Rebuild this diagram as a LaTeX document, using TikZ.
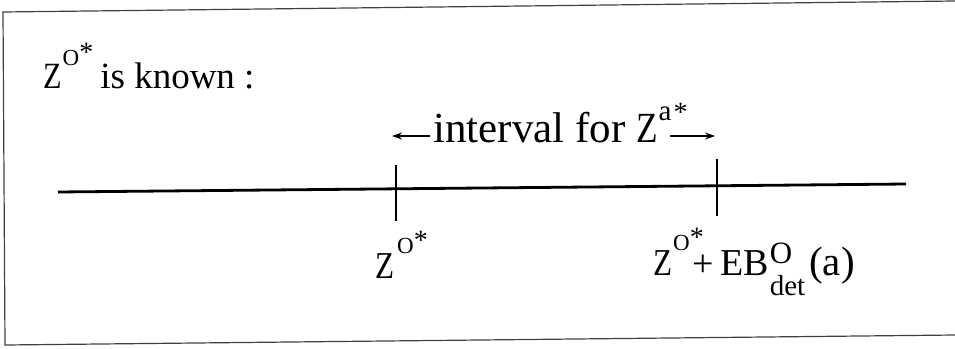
\documentclass[tikz,border=0pt]{standalone}
\usepackage{fontspec}
\setmainfont{Liberation Serif}
\usetikzlibrary{arrows.meta}
% narrow capital Z as in the reference
\newcommand\NZ{\scalebox{0.82}[1]{Z}}
% superscript #1 with a star; #2 = raise of #1, #3 = raise of star
\newcommand\zsup[3]{\raisebox{#2}{\fontsize{23}{23}\selectfont #1}\raisebox{#3}{\fontsize{28}{28}\selectfont *}}
\tikzset{
  lbl/.style={anchor=base west, inner sep=0pt, font=\fontsize{38}{38}\selectfont},
  frameline/.style={line width=1.2pt, draw=black!75},
  axis/.style={line width=2.8pt},
  tick/.style={line width=2pt},
  arr/.style={line width=1.8pt, -{Stealth[length=10pt,width=7pt]}}
}
\begin{document}
\begin{tikzpicture}[x=1pt,y=-1pt]
\useasboundingbox (0,0) rectangle (955,348);
% frame
\coordinate (fTL) at (3,12);
\coordinate (fTR) at (955,1);
\coordinate (fBL) at (5,345);
\coordinate (fBR) at (955,335);
\draw[frameline] (fTR) -- (fTL) -- (fBL) -- (fBR);
% axis
\coordinate (aL) at (58,192);
\coordinate (aR) at (906,184);
\draw[axis] (aL) -- (aR);
% ticks
\coordinate (t1a) at (396,165);
\coordinate (t1b) at (396,221);
\coordinate (t2a) at (717,159);
\coordinate (t2b) at (717,216);
\draw[tick] (t1a) -- (t1b);
\draw[tick] (t2a) -- (t2b);
% title
\node[lbl, font=\fontsize{37}{37}\selectfont] (title) at (43,88) {\NZ\kern1pt\zsup{O}{23pt}{27pt}\kern7pt is known :};
% interval
\node[lbl, font=\fontsize{43}{43}\selectfont] (intv) at (433,142) {interval for \NZ\kern1pt\raisebox{22pt}{\fontsize{29}{29}\selectfont a}\kern2pt\raisebox{21pt}{\fontsize{28}{28}\selectfont *}};
\coordinate (la) at (430,136);
\coordinate (lb) at (392,136);
\coordinate (ra) at (670,136);
\coordinate (rb) at (715,136);
\draw[arr] (la) -- (lb);
\draw[arr] (ra) -- (rb);
% labels
\node[lbl] (z1) at (375,278) {\NZ\kern3pt\zsup{O}{25pt}{29pt}};
\node[lbl] (z2) at (653,275) {\NZ\kern1pt\zsup{O}{25pt}{29pt}\kern-11pt\raisebox{-1pt}{\fontsize{38}{38}\selectfont +}\kern6pt EB\kern1pt\rlap{\raisebox{12pt}{\fontsize{31}{31}\selectfont O}}\raisebox{-20pt}{\fontsize{29}{29}\selectfont det}\kern4pt{\fontsize{41}{41}\selectfont (a)}};
\end{tikzpicture}
\end{document}
